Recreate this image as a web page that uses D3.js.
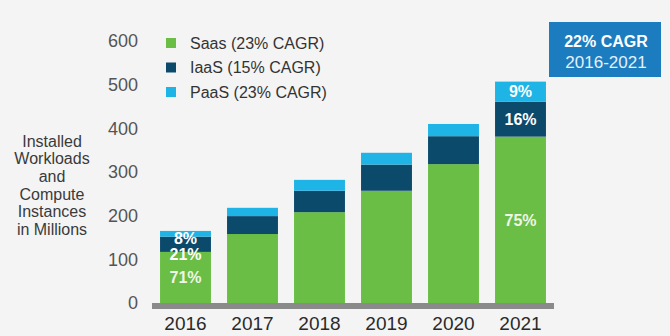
<!DOCTYPE html>
<html>
<head>
<meta charset="utf-8">
<script src="https://cdn.jsdelivr.net/npm/d3@7"></script>
<style>
  html, body { margin: 0; padding: 0; background: #f4f4f4; }
  svg { display: block; font-family: "Liberation Sans", Arial, sans-serif; }
</style>
</head>
<body>
<svg id="chart" width="670" height="336"></svg>
<script>
// Installed workloads and compute instances (millions), by service model
const years = ["2016", "2017", "2018", "2019", "2020", "2021"];
const saas = [117, 158, 208, 257, 318, 381];
const iaas = [35, 41, 49, 60, 64, 80];
const paas = [13, 19, 25, 27, 28, 46];
const yTicks = [0, 100, 200, 300, 400, 500, 600];
const seriesNames = ["Saas (23% CAGR)", "IaaS (15% CAGR)", "PaaS (23% CAGR)"];
const seriesKeys = ["saas", "iaas", "paas"];
const labelledYears = ["2016", "2021"];
const titleLines = ["Installed", "Workloads", "and", "Compute", "Instances", "in Millions"];
const badgeLines = ["22% CAGR", "2016-2021"];

const colors = { saas: "#6abd45", iaas: "#0c4a6c", paas: "#1eb4e6" };

const svg = d3.select("#chart");

const rows = years.map((y, i) => ({ year: y, saas: saas[i], iaas: iaas[i], paas: paas[i] }));
const stacked = d3.stack().keys(seriesKeys)(rows);

const x = d3.scaleBand().domain(years).range([152, 554]).paddingInner(0.24).paddingOuter(0.12);
const y = d3.scaleLinear().domain([0, 600]).range([303, 41]);

// stacked bars
svg.append("g").selectAll("g")
  .data(stacked)
  .join("g")
  .attr("fill", d => colors[d.key])
  .selectAll("rect")
  .data(d => d)
  .join("rect")
  .attr("x", d => x(d.data.year))
  .attr("width", x.bandwidth())
  .attr("y", d => y(d[1]))
  .attr("height", d => y(d[0]) - y(d[1]));

// baseline
svg.append("rect")
  .attr("x", x.range()[0])
  .attr("width", x.range()[1] - x.range()[0])
  .attr("y", y(0))
  .attr("height", 6)
  .attr("fill", "#8a8a8a");

// y axis
const yAxis = svg.append("g")
  .attr("transform", "translate(146,0)")
  .call(d3.axisLeft(y).tickValues(yTicks).tickSize(0).tickPadding(8).tickFormat(d3.format("d")));
yAxis.select(".domain").remove();
yAxis.selectAll("text").attr("font-size", 18).attr("fill", "#555").attr("font-family", null);

// x axis
const xAxis = svg.append("g")
  .attr("transform", `translate(0,${y(0) + 6})`)
  .call(d3.axisBottom(x).tickSize(0).tickPadding(8));
xAxis.select(".domain").remove();
xAxis.selectAll("text").attr("font-size", 19).attr("fill", "#2a2a2a").attr("font-family", null);

// share labels on selected years, kept apart so they don't collide
const pct = v => Math.round(v * 100) + "%";
labelledYears.forEach(yr => {
  const i = years.indexOf(yr);
  const total = saas[i] + iaas[i] + paas[i];
  const top = y(total);
  const segs = stacked.slice().reverse().map(s => ({
    key: s.key,
    value: s[i][1] - s[i][0],
    cy: (y(s[i][0]) + y(s[i][1])) / 2
  }));
  let prev = top - 9;
  segs.forEach(s => {
    s.ly = Math.max(s.cy, prev + 16);
    prev = s.ly;
  });
  svg.append("g").selectAll("text")
    .data(segs)
    .join("text")
    .attr("x", x(yr) + x.bandwidth() / 2)
    .attr("y", d => d.ly)
    .attr("dy", "0.36em")
    .attr("text-anchor", "middle")
    .attr("font-size", 16)
    .attr("font-weight", "bold")
    .attr("fill", d => d.key === "saas" ? "#eef6e6" : "#ffffff")
    .text(d => pct(d.value / total));
});

// legend
const legend = svg.append("g").selectAll("g")
  .data(seriesKeys)
  .join("g")
  .attr("transform", (d, i) => `translate(166,${43 + i * 24.5})`);
legend.append("rect")
  .attr("x", 0).attr("y", -5).attr("width", 10).attr("height", 10)
  .attr("fill", d => colors[d]);
legend.append("text")
  .attr("x", 24).attr("dy", "0.36em")
  .attr("font-size", 16).attr("fill", "#333")
  .text((d, i) => seriesNames[i]);

// y axis title
svg.append("text")
  .attr("text-anchor", "middle")
  .attr("font-size", 16)
  .attr("fill", "#3a3a3a")
  .selectAll("tspan")
  .data(titleLines)
  .join("tspan")
  .attr("x", 52)
  .attr("y", (d, i) => 141 + i * 17.6)
  .attr("dy", "0.36em")
  .text(d => d);

// CAGR badge
svg.append("rect")
  .attr("x", 549).attr("y", 22).attr("width", 112).attr("height", 55)
  .attr("fill", "#1b7cc0");
svg.append("g").selectAll("text")
  .data(badgeLines)
  .join("text")
  .attr("x", 606)
  .attr("y", (d, i) => 41 + i * 21)
  .attr("dy", "0.36em")
  .attr("text-anchor", "middle")
  .attr("font-size", (d, i) => i === 0 ? 16 : 17)
  .attr("font-weight", (d, i) => i === 0 ? "bold" : "normal")
  .attr("fill", (d, i) => i === 0 ? "#ffffff" : "#e4f0fa")
  .text(d => d);
</script>
</body>
</html>
